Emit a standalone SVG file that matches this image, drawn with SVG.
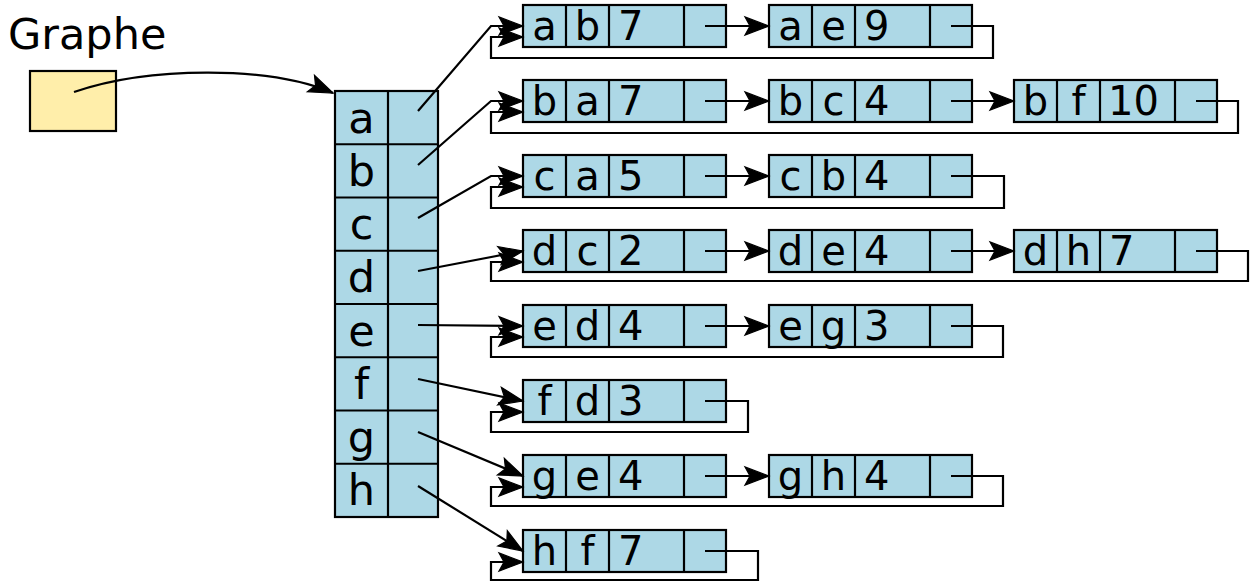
<svg xmlns="http://www.w3.org/2000/svg" width="1250" height="583" viewBox="0 0 1250 583">
<defs>
<marker id="arr" markerUnits="userSpaceOnUse" viewBox="-28 -11 30 22" markerWidth="30" markerHeight="22" refX="0" refY="0" orient="auto">
<path d="M0,0 L-24,-9 L-19,0 L-24,9 Z" fill="#000" stroke="#000" stroke-width="1.2" stroke-linejoin="miter"/>
</marker>
<style>
.box{fill:#add8e6;stroke:#000;stroke-width:2.2}
.sep{stroke:#000;stroke-width:2.2;fill:none}
.yel{fill:#ffeeaa;stroke:#000;stroke-width:2.2}
.t{font-family:"DejaVu Sans",sans-serif;font-size:40px;fill:#000}
.tt{font-family:"DejaVu Sans",sans-serif;font-size:43px;fill:#000;text-anchor:middle}
.g{font-family:"DejaVu Sans",sans-serif;font-size:43px;fill:#000}
.c{text-anchor:middle}
.con{fill:none;stroke:#000;stroke-width:2.2;marker-end:url(#arr)}
</style>
</defs>
<rect width="1250" height="583" fill="#fff"/>

<g id="title">
<text class="g" x="8" y="49">Graphe</text>
</g>

<g id="graphe">
<rect class="yel" x="30" y="71" width="86" height="60"/>
</g>

<g id="table">
<rect class="box" x="335" y="91" width="103" height="426"/>
<path class="sep" d="M388,91 V517 M335,144.25 H438 M335,197.5 H438 M335,250.75 H438 M335,304 H438 M335,357.25 H438 M335,410.5 H438 M335,463.75 H438"/>
<text class="tt" x="361.5" y="132.5">a</text>
<text class="tt" x="361.5" y="185.75">b</text>
<text class="tt" x="361.5" y="239">c</text>
<text class="tt" x="361.5" y="292.25">d</text>
<text class="tt" x="361.5" y="345.5">e</text>
<text class="tt" x="361.5" y="398.75">f</text>
<text class="tt" x="361.5" y="452">g</text>
<text class="tt" x="361.5" y="505.25">h</text>
</g>

<!-- row a -->
<g id="node-a-b">
<rect class="box" x="523" y="5" width="203" height="42"/>
<path class="sep" d="M566,5 V47 M609,5 V47 M684,5 V47"/>
<text class="t c" x="544.5" y="40">a</text>
<text class="t c" x="587.5" y="40">b</text>
<text class="t" x="618" y="40">7</text>
</g>
<g id="node-a-e">
<rect class="box" x="769" y="5" width="203" height="42"/>
<path class="sep" d="M812,5 V47 M855,5 V47 M930,5 V47"/>
<text class="t c" x="790.5" y="40">a</text>
<text class="t c" x="833.5" y="40">e</text>
<text class="t" x="864" y="40">9</text>
</g>

<!-- row b -->
<g id="node-b-a">
<rect class="box" x="523" y="80" width="203" height="42"/>
<path class="sep" d="M566,80 V122 M609,80 V122 M684,80 V122"/>
<text class="t c" x="544.5" y="115">b</text>
<text class="t c" x="587.5" y="115">a</text>
<text class="t" x="618" y="115">7</text>
</g>
<g id="node-b-c">
<rect class="box" x="769" y="80" width="203" height="42"/>
<path class="sep" d="M812,80 V122 M855,80 V122 M930,80 V122"/>
<text class="t c" x="790.5" y="115">b</text>
<text class="t c" x="833.5" y="115">c</text>
<text class="t" x="864" y="115">4</text>
</g>
<g id="node-b-f">
<rect class="box" x="1014" y="80" width="203" height="42"/>
<path class="sep" d="M1057,80 V122 M1100,80 V122 M1175,80 V122"/>
<text class="t c" x="1035.5" y="115">b</text>
<text class="t c" x="1078.5" y="115">f</text>
<text class="t" x="1108" y="115">10</text>
</g>

<!-- row c -->
<g id="node-c-a">
<rect class="box" x="523" y="155" width="203" height="42"/>
<path class="sep" d="M566,155 V197 M609,155 V197 M684,155 V197"/>
<text class="t c" x="544.5" y="190">c</text>
<text class="t c" x="587.5" y="190">a</text>
<text class="t" x="618" y="190">5</text>
</g>
<g id="node-c-b">
<rect class="box" x="769" y="155" width="203" height="42"/>
<path class="sep" d="M812,155 V197 M855,155 V197 M930,155 V197"/>
<text class="t c" x="790.5" y="190">c</text>
<text class="t c" x="833.5" y="190">b</text>
<text class="t" x="864" y="190">4</text>
</g>

<!-- row d -->
<g id="node-d-c">
<rect class="box" x="523" y="230" width="203" height="42"/>
<path class="sep" d="M566,230 V272 M609,230 V272 M684,230 V272"/>
<text class="t c" x="544.5" y="265">d</text>
<text class="t c" x="587.5" y="265">c</text>
<text class="t" x="618" y="265">2</text>
</g>
<g id="node-d-e">
<rect class="box" x="769" y="230" width="203" height="42"/>
<path class="sep" d="M812,230 V272 M855,230 V272 M930,230 V272"/>
<text class="t c" x="790.5" y="265">d</text>
<text class="t c" x="833.5" y="265">e</text>
<text class="t" x="864" y="265">4</text>
</g>
<g id="node-d-h">
<rect class="box" x="1014" y="230" width="203" height="42"/>
<path class="sep" d="M1057,230 V272 M1100,230 V272 M1175,230 V272"/>
<text class="t c" x="1035.5" y="265">d</text>
<text class="t c" x="1078.5" y="265">h</text>
<text class="t" x="1109" y="265">7</text>
</g>

<!-- row e -->
<g id="node-e-d">
<rect class="box" x="523" y="305" width="203" height="42"/>
<path class="sep" d="M566,305 V347 M609,305 V347 M684,305 V347"/>
<text class="t c" x="544.5" y="340">e</text>
<text class="t c" x="587.5" y="340">d</text>
<text class="t" x="618" y="340">4</text>
</g>
<g id="node-e-g">
<rect class="box" x="769" y="305" width="203" height="42"/>
<path class="sep" d="M812,305 V347 M855,305 V347 M930,305 V347"/>
<text class="t c" x="790.5" y="340">e</text>
<text class="t c" x="833.5" y="340">g</text>
<text class="t" x="864" y="340">3</text>
</g>

<!-- row f -->
<g id="node-f-d">
<rect class="box" x="523" y="380" width="203" height="42"/>
<path class="sep" d="M566,380 V422 M609,380 V422 M684,380 V422"/>
<text class="t c" x="544.5" y="415">f</text>
<text class="t c" x="587.5" y="415">d</text>
<text class="t" x="618" y="415">3</text>
</g>

<!-- row g -->
<g id="node-g-e">
<rect class="box" x="523" y="455" width="203" height="42"/>
<path class="sep" d="M566,455 V497 M609,455 V497 M684,455 V497"/>
<text class="t c" x="544.5" y="490">g</text>
<text class="t c" x="587.5" y="490">e</text>
<text class="t" x="618" y="490">4</text>
</g>
<g id="node-g-h">
<rect class="box" x="769" y="455" width="203" height="42"/>
<path class="sep" d="M812,455 V497 M855,455 V497 M930,455 V497"/>
<text class="t c" x="790.5" y="490">g</text>
<text class="t c" x="833.5" y="490">h</text>
<text class="t" x="864" y="490">4</text>
</g>

<!-- row h -->
<g id="node-h-f">
<rect class="box" x="523" y="530" width="203" height="42"/>
<path class="sep" d="M566,530 V572 M609,530 V572 M684,530 V572"/>
<text class="t c" x="544.5" y="565">h</text>
<text class="t c" x="587.5" y="565">f</text>
<text class="t" x="618" y="565">7</text>
</g>

<g id="connectors">
<path class="con" d="M74,92 C150,66 270,66 333,93"/>
<!-- table to lists -->
<path class="con" d="M418,111 L491,26 H523"/>
<path class="con" d="M418,165 L491,101 H523"/>
<path class="con" d="M418,218 L491,176 H523"/>
<path class="con" d="M418,271 L523,251"/>
<path class="con" d="M418,325 L523,326"/>
<path class="con" d="M418,379 L523,401"/>
<path class="con" d="M418,432 L523,476"/>
<path class="con" d="M418,486 L523,551"/>
<!-- next pointers -->
<path class="con" d="M705,26 H769"/>
<path class="con" d="M705,101 H769"/>
<path class="con" d="M951,101 H1014"/>
<path class="con" d="M705,176 H769"/>
<path class="con" d="M705,251 H769"/>
<path class="con" d="M951,251 H1014"/>
<path class="con" d="M705,326 H769"/>
<path class="con" d="M705,476 H769"/>
<!-- circular back pointers -->
<path class="con" d="M951,26 H993 V58 H491 V37 H523"/>
<path class="con" d="M1196,101 H1238 V133 H491 V112 H523"/>
<path class="con" d="M951,176 H1004 V208 H491 V187 H523"/>
<path class="con" d="M1196,251 H1248 V281 H491 V262 H523"/>
<path class="con" d="M951,326 H1003 V357 H491 V337 H523"/>
<path class="con" d="M705,401 H748 V432 H491 V412 H523"/>
<path class="con" d="M951,476 H1003 V506 H491 V487 H523"/>
<path class="con" d="M705,551 H758 V580 H491 V562 H523"/>
</g>
</svg>
